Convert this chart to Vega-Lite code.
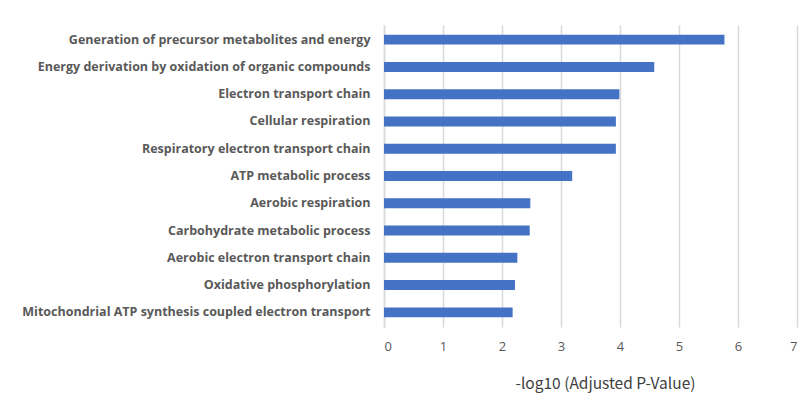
{
  "$schema": "https://vega.github.io/schema/vega-lite/v6.json",
  "width": 413,
  "height": 302,
  "autosize": {"type": "none"},
  "padding": {"left": 384, "top": 25, "right": 8, "bottom": 67},
  "background": "white",
  "data": {
    "values": [
      {"term": "Generation of precursor metabolites and energy", "score": 5.77},
      {"term": "Energy derivation by oxidation of organic compounds", "score": 4.58},
      {"term": "Electron transport chain", "score": 3.99},
      {"term": "Cellular respiration", "score": 3.93},
      {"term": "Respiratory electron transport chain", "score": 3.93},
      {"term": "ATP metabolic process", "score": 3.19},
      {"term": "Aerobic respiration", "score": 2.48},
      {"term": "Carbohydrate metabolic process", "score": 2.47},
      {"term": "Aerobic electron transport chain", "score": 2.26},
      {"term": "Oxidative phosphorylation", "score": 2.22},
      {"term": "Mitochondrial ATP synthesis coupled electron transport", "score": 2.18}
    ]
  },
  "mark": {"type": "bar", "color": "#4472C4"},
  "encoding": {
    "y": {
      "field": "term",
      "type": "nominal",
      "sort": null,
      "scale": {"paddingInner": 0.64, "paddingOuter": 0.36},
      "axis": {
        "title": null,
        "ticks": false,
        "domain": true,
        "domainColor": "#d9d9d9",
        "domainWidth": 1.5,
        "labelFont": "Open Sans",
        "labelFontWeight": "bold",
        "labelFontSize": 12.5,
        "labelColor": "#595959",
        "labelPadding": 14,
        "labelLimit": 400
      }
    },
    "x": {
      "field": "score",
      "type": "quantitative",
      "scale": {"domain": [0, 7], "nice": false},
      "axis": {
        "title": "-log10 (Adjusted P-Value)",
        "values": [0, 1, 2, 3, 4, 5, 6, 7],
        "format": "d",
        "domain": false,
        "ticks": false,
        "grid": true,
        "gridColor": "#d9d9d9",
        "gridWidth": 1.5,
        "labelFont": "Open Sans",
        "labelFontSize": 13,
        "labelColor": "#595959",
        "labelPadding": 13,
        "titleFont": "Noto Sans CJK JP",
        "titleFontSize": 15.5,
        "titleFontWeight": "normal",
        "titleColor": "#404040",
        "titleAlign": "center",
        "titleBaseline": "middle",
        "titleAnchor": null,
        "titleX": 221,
        "titleY": 56
      }
    }
  },
  "config": {"view": {"stroke": null}}
}
